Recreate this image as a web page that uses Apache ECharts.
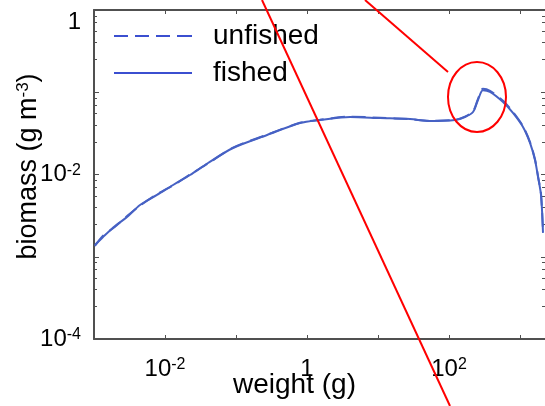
<!DOCTYPE html>
<html>
<head>
<meta charset="utf-8">
<script src="https://cdn.jsdelivr.net/npm/echarts@6/dist/echarts.min.js"></script>
<style>
html,body{margin:0;padding:0;background:#fff;}
#c{width:545px;height:406px;}
</style>
</head>
<body>
<div id="c"></div>
<script>
// weight (g)
const weights = [0.00103, 0.00134, 0.00198, 0.00292, 0.00445, 0.00771, 0.0130, 0.0225, 0.0404, 0.0908,
  0.274, 0.796, 1.52, 4.04, 10.7, 28.2, 54.0, 122, 168, 218, 256, 301, 378, 577, 796, 1102, 1384, 1626, 1795, 1977, 2109];
// biomass (g m^-3)
const fished = [0.00139, 0.00174, 0.00237, 0.00304, 0.00426, 0.00564, 0.00745, 0.00986, 0.0138, 0.0210,
  0.0302, 0.0423, 0.0460, 0.0500, 0.0486, 0.0473, 0.0447, 0.0460, 0.0500, 0.0575, 0.0805, 0.106, 0.101, 0.0760,
  0.0560, 0.0378, 0.0242, 0.0150, 0.00933, 0.00564, 0.00195];
const unfished = [0.00135, 0.00180, 0.00232, 0.00312, 0.00418, 0.00575, 0.00735, 0.0100, 0.0136, 0.0212,
  0.0305, 0.0425, 0.0462, 0.0505, 0.0490, 0.0470, 0.0450, 0.0462, 0.0505, 0.0585, 0.0830, 0.110, 0.104, 0.0790,
  0.0575, 0.0385, 0.0248, 0.0153, 0.00950, 0.00580, 0.00200];
const seriesNames = ['unfished', 'fished'];
const xMin = 0.001, xMax = 2250, yMin = 0.0001, yMax = 1;

const FONT = 'Liberation Sans';
const BLUE = '#4661c4';
const LEG_BLUE = '#3b4fd0';
const AXIS = '#505050';

function pow10Label(v) {
  const e = Math.round(Math.log10(v));
  if (e % 2 !== 0) return '';
  if (e === 0) return '{b|1}';
  return '{b|10}{s|' + e + '}';
}
const labelRich = {
  b: { fontSize: 24, fontFamily: FONT, color: '#000' },
  s: { fontSize: 16, fontFamily: FONT, color: '#000', verticalAlign: 'top' }
};

const chart = echarts.init(document.getElementById('c'), null, { renderer: 'canvas' });
chart.setOption({
  animation: false,
  backgroundColor: '#fff',
  grid: { left: 94, right: 0, top: 10, bottom: 67, containLabel: false, outerBoundsMode: 'none' },
  legend: {
    orient: 'vertical', left: 109, top: 13, itemWidth: 78, itemHeight: 2, itemGap: 1,
    data: [
      { name: seriesNames[0], icon: 'path://M0,0h14v2h-14z M21,0h14v2h-14z M42,0h14v2h-14z M63,0h15v2h-15z', itemStyle: { color: LEG_BLUE } },
      { name: seriesNames[1], icon: 'path://M0,0h78v2h-78z', itemStyle: { color: LEG_BLUE } }
    ],
    textStyle: { fontFamily: FONT, fontSize: 28, color: '#000', lineHeight: 30, padding: [0, 0, 6, 16] }
  },
  xAxis: [{
    type: 'log', logBase: 10, min: xMin, max: xMax, position: 'bottom',
    name: 'weight (g)', nameLocation: 'middle', nameGap: 32, nameMoveOverlap: false,
    nameTextStyle: { fontFamily: FONT, fontSize: 28, color: '#000', padding: [0, 50, 0, 0] },
    axisLine: { lineStyle: { color: AXIS, width: 2 } },
    axisTick: { inside: true, length: 4, lineStyle: { color: AXIS } },
    axisLabel: { formatter: pow10Label, rich: labelRich, margin: 18 },
    splitLine: { show: false }
  }, {
    type: 'log', logBase: 10, min: xMin, max: xMax, position: 'top',
    axisLine: { lineStyle: { color: AXIS, width: 2 } },
    axisTick: { inside: true, length: 4, lineStyle: { color: AXIS } },
    axisLabel: { show: false }, splitLine: { show: false }
  }],
  yAxis: [{
    type: 'log', logBase: 10, min: yMin, max: yMax, position: 'left',
    name: '{n|biomass (g m}{s|-3}{n|)}', nameLocation: 'middle', nameGap: 52, nameRotate: 90, nameMoveOverlap: false,
    nameTextStyle: {
      fontFamily: FONT, fontSize: 27, color: '#000', padding: [0, 0, 0, 16],
      rich: { n: { fontFamily: FONT, fontSize: 27, color: '#000' }, s: { fontFamily: FONT, fontSize: 17, color: '#000', verticalAlign: 'top' } }
    },
    axisLine: { lineStyle: { color: AXIS, width: 2 } },
    axisTick: { inside: true, length: 5, lineStyle: { color: AXIS } },
    minorTick: { show: true, splitNumber: 6, length: 3, lineStyle: { color: AXIS } },
    axisLabel: { formatter: pow10Label, rich: labelRich, margin: 13, verticalAlignMinLabel: 'middle', verticalAlignMaxLabel: 'top' },
    splitLine: { show: false }
  }, {
    type: 'log', logBase: 10, min: yMin, max: yMax, position: 'right',
    axisLine: { show: false },
    axisTick: { inside: true, length: 4, lineStyle: { color: AXIS } },
    minorTick: { show: true, splitNumber: 6, length: 3, lineStyle: { color: AXIS } },
    axisLabel: { show: false }, splitLine: { show: false }
  }],
  series: [{
    name: seriesNames[0], type: 'line', symbol: 'none', smooth: 0.3,
    data: weights.map((w, i) => [w, unfished[i]]),
    lineStyle: { color: BLUE, width: 2, type: [14, 7] }, itemStyle: { color: BLUE }
  }, {
    name: seriesNames[1], type: 'line', symbol: 'none', smooth: 0.3,
    data: weights.map((w, i) => [w, fished[i]]),
    lineStyle: { color: BLUE, width: 2, type: 'solid' }, itemStyle: { color: BLUE }
  }],
  graphic: [
    { type: 'line', shape: { x1: 262, y1: 0, x2: 450, y2: 406 }, style: { stroke: '#ff0000', lineWidth: 2 }, z: 100 },
    { type: 'line', shape: { x1: 365, y1: 0, x2: 448, y2: 72 }, style: { stroke: '#ff0000', lineWidth: 2 }, z: 100 },
    { type: 'ellipse', shape: { cx: 477, cy: 97, rx: 29, ry: 35 }, style: { stroke: '#ff0000', fill: null, lineWidth: 2 }, z: 100 }
  ]
});
</script>
</body>
</html>
